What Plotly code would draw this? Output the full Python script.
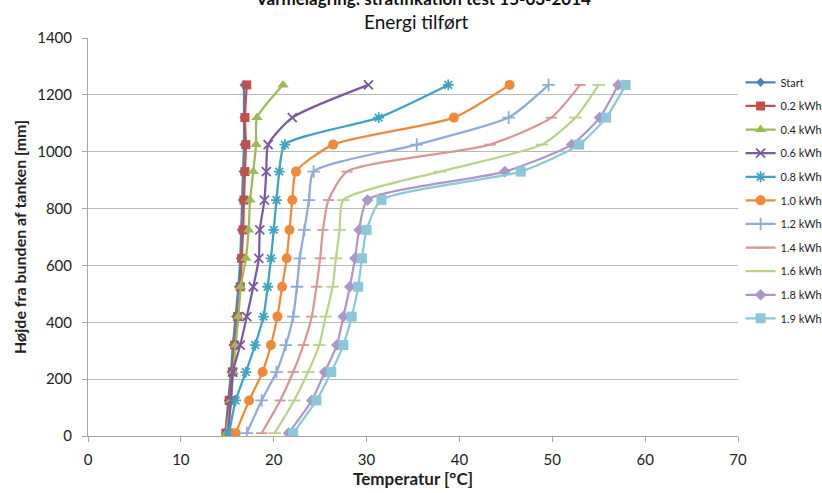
import plotly.graph_objects as go

heights = [1235, 1120, 1025, 930, 830, 725, 625, 525, 420, 320, 225, 125, 10]

series_names = ["Start", "0.2 kWh", "0.4 kWh", "0.6 kWh", "0.8 kWh", "1.0 kWh",
                "1.2 kWh", "1.4 kWh", "1.6 kWh", "1.8 kWh", "1.9 kWh"]

t_start = [16.8, 16.8, 16.8, 16.7, 16.6, 16.5, 16.4, 16.2, 15.9, 15.6, 15.4, 15.1, 14.8]
t_02 = [17.1, 16.9, 17.0, 16.9, 16.8, 16.7, 16.55, 16.4, 16.1, 15.8, 15.55, 15.2, 14.85]
t_04 = [21.0, 18.2, 18.1, 17.8, 17.45, 17.3, 17.0, 16.45, 16.2, 15.9, 15.65, 15.4, 14.9]
t_06 = [30.2, 22.0, 19.4, 19.2, 19.0, 18.5, 18.4, 17.8, 17.1, 16.4, 15.6, 15.4, 15.1]
t_08 = [38.8, 31.3, 21.2, 20.6, 20.3, 20.0, 19.7, 19.35, 18.9, 18.0, 17.0, 15.9, 15.2]
t_10 = [45.4, 39.4, 26.4, 22.4, 22.0, 21.7, 21.4, 20.9, 20.4, 19.7, 18.8, 17.35, 15.9]
t_12 = [49.6, 45.3, 35.4, 24.3, 23.8, 23.3, 22.8, 22.5, 22.1, 21.3, 20.3, 18.7, 17.1]
t_14 = [53.0, 49.9, 43.3, 27.9, 25.9, 25.3, 25.0, 24.6, 24.1, 23.2, 22.1, 20.7, 18.7]
t_16 = [55.0, 52.5, 48.9, 37.9, 27.5, 27.1, 26.7, 26.35, 25.6, 24.9, 23.7, 22.2, 20.1]
t_18 = [57.1, 55.1, 52.1, 44.9, 30.1, 29.2, 28.75, 28.2, 27.5, 26.8, 25.5, 24.1, 21.6]
t_19 = [57.9, 55.8, 52.9, 46.6, 31.6, 30.0, 29.5, 29.1, 28.4, 27.5, 26.2, 24.6, 22.1]

all_temps = [t_start, t_02, t_04, t_06, t_08, t_10, t_12, t_14, t_16, t_18, t_19]

colors = ["#4F81BD", "#C0504D", "#9BBB59", "#7A5A9E", "#3FA4BF", "#EE8A3A",
          "#8FAADC", "#D99694", "#B9D38C", "#AC98C8", "#8CC8DA"]
symbols = ["diamond", "square", "triangle-up", "x-thin", "asterisk", "circle",
           "cross-thin", "line-ew", "line-ew", "diamond", "square"]
sizes = [7, 9, 10, 9, 9, 10, 9, 8, 9, 9, 10]

font_family = "Lato, 'Open Sans', 'Liberation Sans', sans-serif"

fig = go.Figure()
for i, (name, temps) in enumerate(zip(series_names, all_temps)):
    c = colors[i]
    sym = symbols[i]
    line_only = sym in ("x-thin", "asterisk", "cross-thin", "line-ew")
    fig.add_trace(go.Scatter(
        x=temps, y=heights, name=name, mode="lines+markers",
        line=dict(color=c, width=2.25, shape="spline", smoothing=0.6),
        marker=dict(symbol=sym, size=sizes[i], color=c,
                    line=dict(color=c, width=1.8 if line_only else 0)),
        legendgroup=name,
    ))

fig.update_layout(
    width=822, height=493,
    margin=dict(l=88, r=84, t=38, b=57, autoexpand=False),
    paper_bgcolor="white", plot_bgcolor="white",
    font=dict(family=font_family, size=14, color="#222222"),
    showlegend=True,
    legend=dict(x=1.004, y=0.925, xanchor="left", yanchor="top",
                font=dict(size=11, color="#222222"),
                tracegroupgap=4.6, traceorder="grouped",
                itemwidth=30, bgcolor="rgba(0,0,0,0)"),
    xaxis=dict(range=[0, 70], dtick=10, tick0=0,
               showgrid=False, zeroline=False,
               showline=True, linecolor="#A6A6A6", linewidth=1,
               ticks="outside", ticklen=5, tickcolor="#A6A6A6",
               tickfont=dict(size=15), ticklabelstandoff=5,
               title=dict(text="<b>Temperatur [°C]</b>", font=dict(size=17), standoff=2)),
    yaxis=dict(range=[0, 1400], dtick=200, tick0=0,
               showgrid=True, gridcolor="#B8B8B8", gridwidth=1,
               zeroline=False,
               showline=True, linecolor="#A6A6A6", linewidth=1,
               ticks="outside", ticklen=5, tickcolor="#A6A6A6",
               tickfont=dict(size=15), ticklabelstandoff=7,
               title=dict(text="<b>Højde fra bunden af tanken [mm]</b>", font=dict(size=16), standoff=6)),
)

fig.add_annotation(text="<b>Varmelagring: stratifikation test 15-03-2014</b>",
                   xref="paper", yref="paper", x=0.515, y=1.0985,
                   xanchor="center", yanchor="middle", showarrow=False,
                   font=dict(size=17, color="#111111"))
fig.add_annotation(text="Energi tilført",
                   xref="paper", yref="paper", x=0.505, y=1.042,
                   xanchor="center", yanchor="middle", showarrow=False,
                   font=dict(size=19, color="#111111"))

fig.write_html("out.html", config={"displayModeBar": False},
               post_script="document.body.style.margin='0';document.body.style.overflow='hidden';")
